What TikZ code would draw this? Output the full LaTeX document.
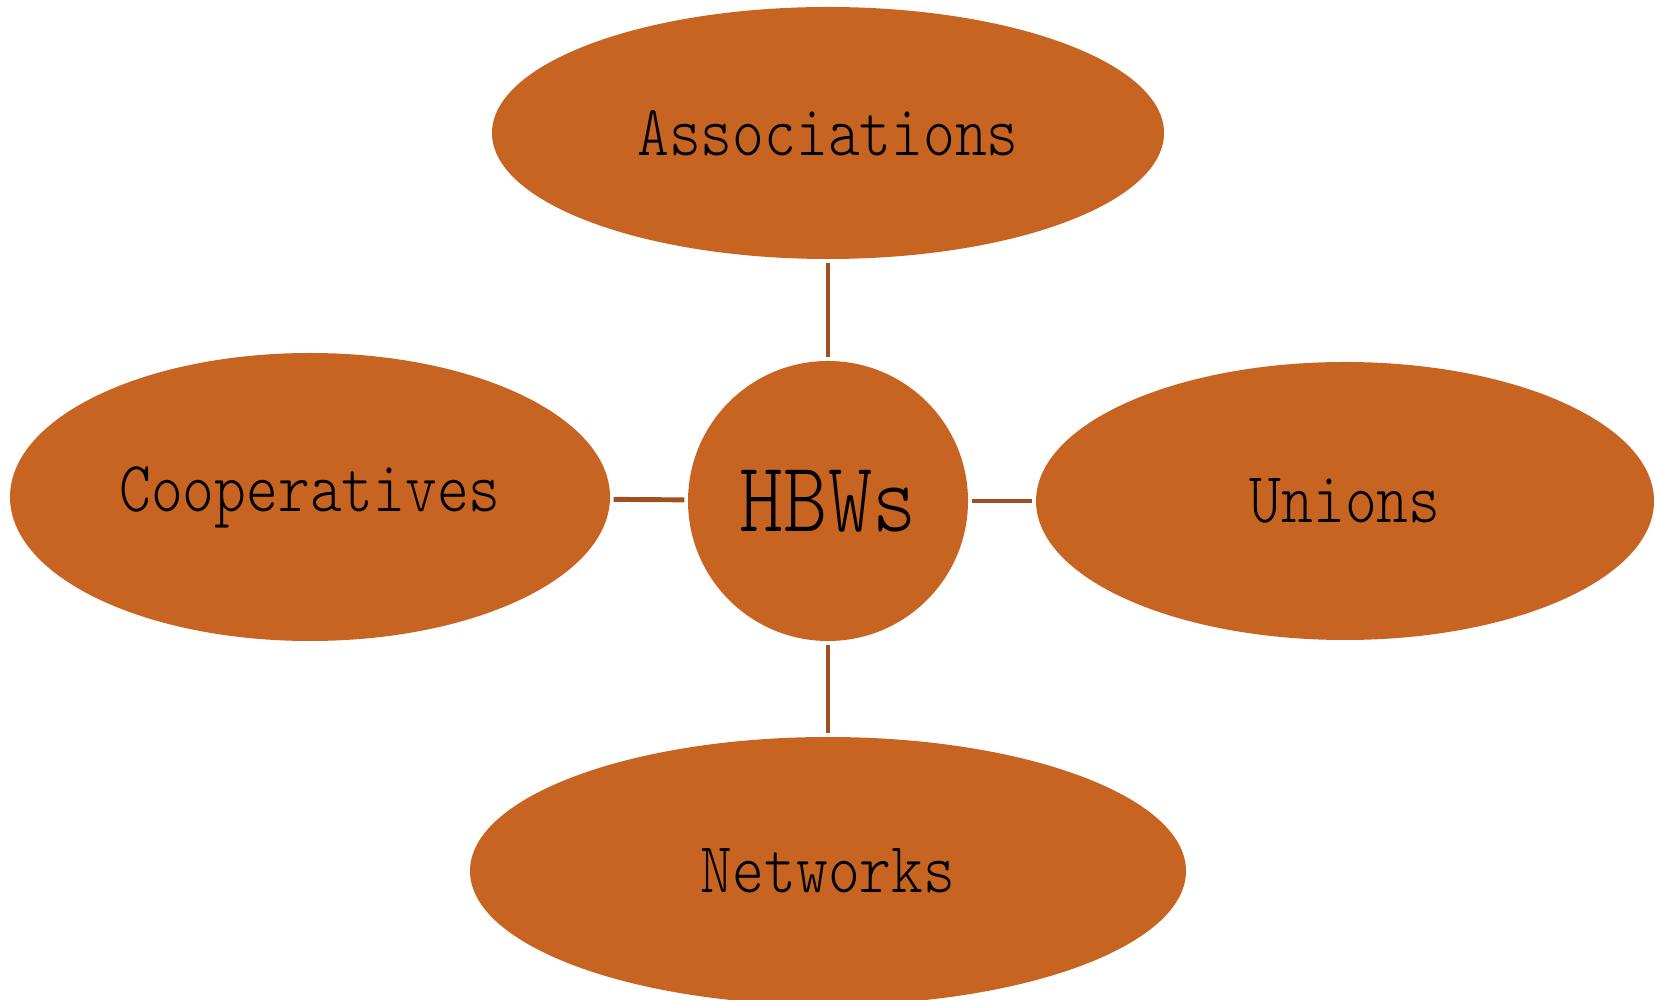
\documentclass[tikz,border=0pt]{standalone}
\usepackage{fontspec}
\usetikzlibrary{shapes.geometric}
\newfontfamily\lblfont{lmmonolt10-regular.otf}[FakeStretch=0.84]
\definecolor{rust}{HTML}{C86422}
\definecolor{linkbrown}{HTML}{A0501E}
\tikzset{
  blob/.style={ellipse,fill=rust,inner sep=0pt,font=\lblfont\fontsize{20.5}{24}\selectfont},
  hub/.style={circle,fill=rust,inner sep=0pt,minimum size=2.8cm,font=\lblfont\fontsize{28.5}{32}\selectfont},
  link/.style={linkbrown,line width=1.4pt,shorten <=0.3mm,shorten >=0.3mm}
}
\begin{document}
\begin{tikzpicture}
\useasboundingbox (0,0) rectangle (16.55,-10);
\node[hub] (hbw) at (8.28,-5.01) {HBWs};
\node[blob,minimum width=6.72cm,minimum height=2.52cm] (assoc) at (8.28,-1.33) {Associations};
\node[blob,minimum width=6.0cm,minimum height=2.88cm] (coop) at (3.10,-4.97) {Cooperatives};
\node[blob,minimum width=6.18cm,minimum height=2.78cm] (union) at (13.45,-5.01) {Unions};
\node[blob,minimum width=7.16cm,minimum height=2.68cm] (net) at (8.28,-8.71) {Networks};
\draw[link] (hbw) -- (assoc);
\draw[link] (hbw) -- (coop);
\draw[link] (hbw) -- (union);
\draw[link] (hbw) -- (net);
\end{tikzpicture}
\end{document}
